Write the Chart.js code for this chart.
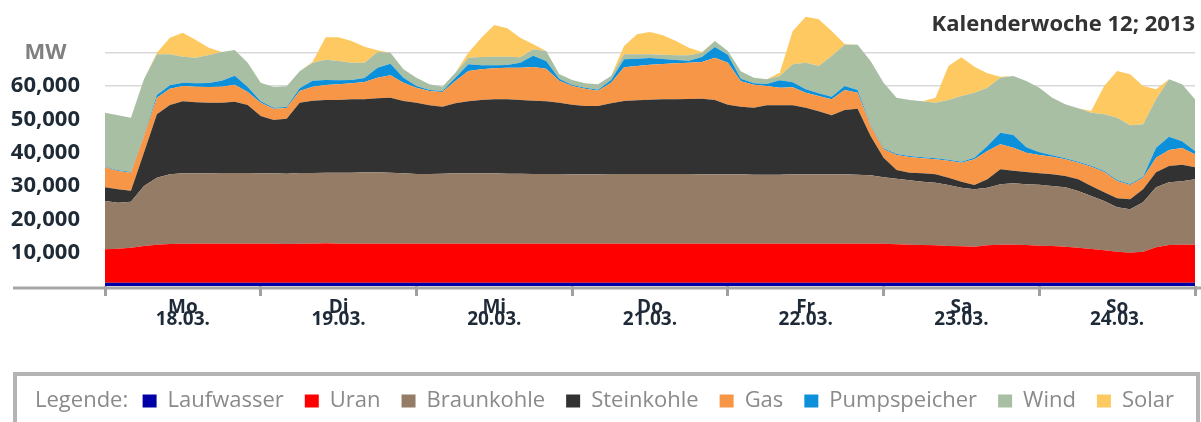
<!DOCTYPE html>
<html lang="de">
<head>
<meta charset="utf-8">
<title>Stromerzeugung Kalenderwoche 12; 2013</title>
<script src="https://cdn.jsdelivr.net/npm/chart.js@4.4.1/dist/chart.umd.min.js"></script>
<style>
  html, body { margin: 0; padding: 0; background: #fff; }
</style>
</head>
<body>
<canvas id="chart" width="1201" height="422"></canvas>
<script>
// hours since Monday 18.03.2013 00:00, one point every 2 hours
const hours = [
  0, 2, 4, 6, 8, 10, 12, 14, 16, 18, 20, 22,
  24, 26, 28, 30, 32, 34, 36, 38, 40, 42, 44, 46,
  48, 50, 52, 54, 56, 58, 60, 62, 64, 66, 68, 70,
  72, 74, 76, 78, 80, 82, 84, 86, 88, 90, 92, 94,
  96, 98, 100, 102, 104, 106, 108, 110, 112, 114, 116, 118,
  120, 122, 124, 126, 128, 130, 132, 134, 136, 138, 140, 142,
  144, 146, 148, 150, 152, 154, 156, 158, 160, 162, 164, 166,
  168
];

const dayNames = ['Mo', 'Di', 'Mi', 'Do', 'Fr', 'Sa', 'So'];
const dayDates = ['18.03.', '19.03.', '20.03.', '21.03.', '22.03.', '23.03.', '24.03.'];
const yTicks = [0, 10000, 20000, 30000, 40000, 50000, 60000, 70000];

// MW per source
const laufwasser = [
  1000, 1000, 1000, 1000, 1000, 1000, 1000, 1000, 1000, 1000, 1000, 1000,
  1000, 1000, 1000, 1000, 1000, 1000, 1000, 1000, 1000, 1000, 1000, 1000,
  1000, 1000, 1000, 1000, 1000, 1000, 1000, 1000, 1000, 1000, 1000, 1000,
  1000, 1000, 1000, 1000, 1000, 1000, 1000, 1000, 1000, 1000, 1000, 1000,
  1000, 1000, 1000, 1000, 1000, 1000, 1000, 1000, 1000, 1000, 1000, 1000,
  1000, 1000, 1000, 1000, 1000, 1000, 1000, 1000, 1000, 1000, 1000, 1000,
  1000, 1000, 1000, 1000, 1000, 1000, 1000, 1000, 1000, 1000, 1000, 1000,
  1000
];
const uran = [
  10000, 10200, 10500, 11000, 11400, 11600, 11700, 11700, 11700, 11700, 11700, 11700,
  11700, 11700, 11600, 11700, 11700, 11800, 11700, 11700, 11700, 11700, 11700, 11700,
  11700, 11700, 11700, 11700, 11700, 11700, 11700, 11700, 11700, 11700, 11700, 11700,
  11700, 11700, 11700, 11700, 11700, 11700, 11700, 11700, 11700, 11700, 11700, 11700,
  11700, 11700, 11700, 11700, 11700, 11700, 11700, 11700, 11700, 11700, 11700, 11700,
  11700, 11500, 11400, 11300, 11200, 11000, 10900, 10800, 11200, 11400, 11400, 11300,
  11100, 11000, 10800, 10500, 10100, 9700, 9300, 9000, 9300, 10600, 11300, 11400,
  11400
];
const braunkohle = [
  14500, 13800, 13800, 18000, 20100, 20900, 21100, 21100, 21100, 21200, 21200, 21200,
  21100, 21100, 21100, 21200, 21200, 21200, 21300, 21300, 21400, 21400, 21300, 21100,
  20900, 20900, 21000, 21100, 21100, 21100, 21100, 21000, 21000, 20900, 20900, 20900,
  20800, 20800, 20800, 20900, 20900, 20900, 20900, 20900, 20900, 20900, 20800, 20800,
  20800, 20800, 20700, 20700, 20700, 20800, 20800, 20800, 20800, 20800, 20700, 20500,
  19900, 19700, 19300, 19000, 18800, 18300, 17600, 17200, 17300, 18100, 18400, 18200,
  18300, 18000, 17800, 17000, 15900, 14800, 13300, 13000, 14800, 18000, 18800, 19000,
  19600
];
const steinkohle = [
  4100, 4000, 3300, 10000, 19000, 20800, 21600, 21300, 21200, 21100, 21400, 20400,
  17200, 16000, 16500, 21100, 21700, 21800, 21800, 22000, 21900, 22200, 22500, 21700,
  21400, 20600, 20100, 21000, 21600, 22000, 22200, 22300, 22100, 22000, 21800, 21400,
  20900, 20500, 20500, 21200, 21900, 22100, 22300, 22400, 22400, 22500, 22700, 22300,
  20900, 20300, 20100, 20800, 20800, 20700, 20000, 18900, 17700, 19300, 19800, 11800,
  5900, 2600, 2300, 2500, 2500, 2200, 1800, 1300, 2500, 4500, 3800, 3700,
  3400, 3500, 3400, 3500, 3000, 2600, 2700, 3000, 3900, 4500, 4900, 5000,
  3600
];
const gas = [
  6000, 5500, 5400, 5000, 5000, 4900, 4600, 4700, 4700, 4800, 5100, 3900,
  4000, 3400, 3200, 3500, 4200, 4500, 4700, 4800, 5200, 6200, 6700, 5500,
  4500, 4300, 4400, 6700, 9100, 9200, 9300, 9500, 9700, 10100, 9800, 6600,
  5600, 5200, 4600, 6200, 10100, 10300, 10500, 10600, 10800, 10900, 11000, 12700,
  12600, 7600, 6900, 5800, 5300, 5400, 4500, 4600, 4800, 6000, 4800, 3000,
  2500, 4500, 4700, 4500, 4500, 5100, 5700, 7700, 8500, 7500, 6900, 5800,
  5500, 5300, 5000, 5000, 5800, 6100, 5200, 4300, 3500, 4400, 4800, 5000,
  3900
];
const pumpspeicher = [
  200, 200, 200, 200, 800, 1000, 1000, 1000, 1200, 1800, 2700, 1500,
  400, 300, 300, 800, 1800, 1500, 1200, 1000, 1200, 3000, 3500, 1500,
  500, 300, 300, 1000, 2000, 1200, 900, 800, 1500, 3400, 2300, 600,
  300, 300, 300, 800, 2400, 2200, 2000, 1500, 1000, 600, 1500, 3200,
  2400, 800, 400, 600, 2200, 1500, 1000, 800, 800, 1200, 800, 300,
  300, 300, 300, 300, 300, 300, 300, 500, 1500, 3500, 3800, 1600,
  800, 400, 300, 300, 300, 300, 300, 300, 300, 3000, 4000, 2000,
  1000
];
const wind = [
  16200, 16500, 16300, 16800, 12200, 9300, 7800, 7700, 8400, 8600, 7700, 7300,
  5600, 6200, 6200, 5100, 5400, 6100, 5800, 5200, 4600, 4700, 3300, 2500,
  2500, 1700, 1300, 1500, 2000, 2500, 2600, 2500, 1600, 1900, 3000, 1400,
  1500, 1300, 1600, 1200, 1500, 1300, 1100, 1300, 1400, 1600, 1300, 1800,
  1100, 2200, 1700, 1400, 1300, 5400, 8000, 8200, 12200, 12400, 13600, 19200,
  19700, 16900, 16800, 16800, 16700, 17900, 19700, 19500, 17500, 16500, 17700, 19900,
  19400, 17300, 16200, 16000, 15900, 17000, 18700, 17600, 15700, 14500, 17200, 17100,
  15500
];
const solar = [
  0, 0, 0, 0, 500, 5000, 7200, 5300, 2200, 0, 0, 0,
  0, 0, 0, 0, 300, 6700, 7100, 6500, 4800, 500, 0, 0,
  0, 0, 0, 0, 1500, 5800, 9500, 8500, 5900, 1500, 0, 0,
  0, 0, 0, 0, 2500, 6000, 6700, 5800, 4300, 2300, 200, 0,
  0, 0, 0, 0, 1000, 10000, 13800, 14000, 7500, 200, 0, 0,
  0, 0, 0, 0, 1500, 10200, 11600, 7800, 4300, 300, 0, 0,
  0, 0, 0, 0, 500, 8500, 14000, 15300, 11500, 3000, 0, 0,
  0
];

const seriesNames = ['Laufwasser', 'Uran', 'Braunkohle', 'Steinkohle', 'Gas', 'Pumpspeicher', 'Wind', 'Solar'];
const seriesValues = [laufwasser, uran, braunkohle, steinkohle, gas, pumpspeicher, wind, solar];
const seriesColors = ['#0000a6', '#ff0000', '#947c67', '#323232', '#f79646', '#0c90da', '#a9bfa4', '#fdc960'];

const FONT = '"Open Sans", "DejaVu Sans", sans-serif';
const LEGEND_GREY = '#8a8a8a';
Chart.defaults.font.family = FONT;

const datasets = seriesNames.map((name, i) => ({
  label: name,
  data: hours.map((h, j) => ({ x: h, y: seriesValues[i][j] })),
  backgroundColor: seriesColors[i],
  borderColor: seriesColors[i],
  borderWidth: 0,
  pointRadius: 0,
  fill: i === 0 ? 'origin' : '-1',
  tension: 0,
}));

const decorations = {
  id: 'decorations',
  afterDraw(chart) {
    const { ctx, chartArea, legend } = chart;
    ctx.save();
    // x axis line reaching out to the left
    ctx.strokeStyle = '#a6a6a6';
    ctx.lineWidth = 3;
    ctx.beginPath();
    ctx.moveTo(13, chartArea.bottom + 2);
    ctx.lineTo(chart.width, chartArea.bottom + 2);
    ctx.stroke();
    // legend frame and its caption
    ctx.strokeStyle = '#b4b4b4';
    ctx.lineWidth = 4;
    ctx.strokeRect(15, legend.top + 5, chart.width - 18, 80);
    const box = legend.legendHitBoxes[0];
    ctx.font = '22px ' + FONT;
    ctx.fillStyle = LEGEND_GREY;
    ctx.textAlign = 'left';
    ctx.textBaseline = 'middle';
    ctx.fillText('Legende:', 35, box.top + box.height / 2);
    // week title
    ctx.font = 'bold 22px ' + FONT;
    ctx.fillStyle = '#333333';
    ctx.textAlign = 'right';
    ctx.fillText('Kalenderwoche 12; 2013', 1195, 25);
    ctx.restore();
  },
};

new Chart(document.getElementById('chart'), {
  type: 'line',
  data: { datasets },
  plugins: [decorations],
  options: {
    responsive: false,
    animation: false,
    devicePixelRatio: 1,
    layout: { padding: { top: 6, right: 6, left: 0, bottom: 0 } },
    elements: { line: { borderWidth: 0 } },
    scales: {
      x: {
        type: 'linear',
        min: 0,
        max: 168,
        afterBuildTicks: (axis) => {
          const ticks = [];
          for (let h = 0; h <= 168; h += 12) ticks.push({ value: h });
          axis.ticks = ticks;
        },
        afterFit: (axis) => { axis.height = 83; },
        border: { display: false },
        grid: {
          drawOnChartArea: false,
          tickLength: 10,
          tickWidth: 3,
          tickColor: (ctx) => (ctx.tick && ctx.tick.value % 24 === 0 ? '#a0a0a0' : 'rgba(0,0,0,0)'),
        },
        ticks: {
          autoSkip: false,
          maxRotation: 0,
          padding: 6,
          color: '#1f2a38',
          font: { size: 19, weight: 'bold', lineHeight: 0.6 },
          callback: (v) => {
            if (v % 24 !== 12) return '';
            const d = (v - 12) / 24;
            return [dayNames[d], dayDates[d]];
          },
        },
      },
      y: {
        stacked: true,
        min: 0,
        max: 84000,
        afterBuildTicks: (axis) => { axis.ticks = yTicks.map((v) => ({ value: v })); },
        afterFit: (axis) => {
          axis.width = 105;
          axis.paddingTop = 0;
          axis.paddingBottom = 0;
        },
        border: { display: false },
        grid: {
          drawTicks: false,
          lineWidth: 1.5,
          color: (ctx) => (ctx.tick && ctx.tick.value === 0 ? 'rgba(0,0,0,0)' : '#d9d9d9'),
        },
        ticks: {
          autoSkip: false,
          padding: 25,
          crossAlign: 'center',
          color: (ctx) => (ctx.tick && ctx.tick.value === 70000 ? '#808080' : '#1e2b37'),
          font: { size: 22, weight: 'bold' },
          callback: (v) => {
            if (v === 70000) return 'MW';
            if (v === 0) return '';
            return v.toLocaleString('en-US');
          },
        },
      },
    },
    plugins: {
      tooltip: { enabled: false },
      legend: {
        position: 'bottom',
        align: 'end',
        onClick: () => {},
        labels: {
          boxWidth: 14,
          boxHeight: 13,
          padding: 21,
          color: LEGEND_GREY,
          font: { size: 22 },
          generateLabels: (chart) => chart.data.datasets.map((d, i) => ({
            text: d.label,
            fillStyle: d.backgroundColor,
            strokeStyle: d.backgroundColor,
            lineWidth: 0,
            hidden: false,
            fontColor: LEGEND_GREY,
            datasetIndex: i,
          })),
        },
      },
    },
  },
});
</script>
</body>
</html>
